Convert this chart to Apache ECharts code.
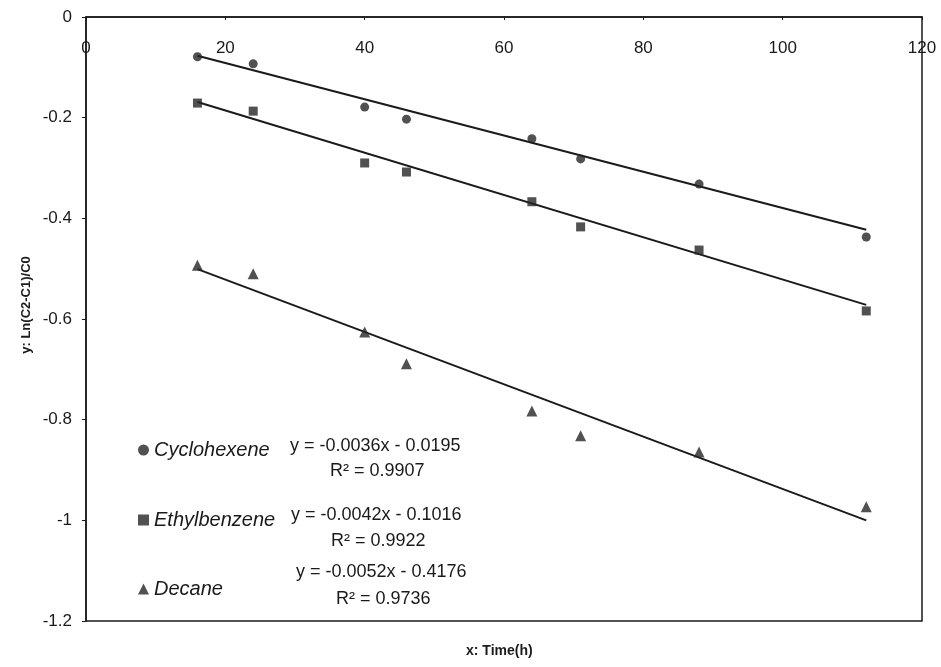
<!DOCTYPE html>
<html>
<head>
<meta charset="utf-8">
<script src="https://cdn.jsdelivr.net/npm/echarts@6/dist/echarts.min.js"></script>
<style>
  html, body { margin: 0; padding: 0; background: #fff; }
  #chart { width: 941px; height: 667px; }
</style>
</head>
<body>
<div id="chart"></div>
<script>
// Sampling times (h)
const timeH = [16, 24, 40, 46, 64, 71, 88, 112];

// Measured ln((C2-C1)/C0) per compound
const cyclohexene = [-0.079, -0.093, -0.179, -0.203, -0.242, -0.282, -0.332, -0.437];
const ethylbenzene = [-0.171, -0.187, -0.290, -0.308, -0.367, -0.417, -0.463, -0.584];
const decane = [-0.493, -0.510, -0.626, -0.689, -0.783, -0.832, -0.864, -0.973];

// Linear fits shown in the legend: y = slope * x + intercept
const compounds = ['Cyclohexene', 'Ethylbenzene', 'Decane'];
const slopes = [-0.0036, -0.0042, -0.0052];
const intercepts = [-0.0195, -0.1016, -0.4176];
const rSquared = ['0.9907', '0.9922', '0.9736'];

// Axis ticks
const xTicks = [0, 20, 40, 60, 80, 100, 120];
const yTicks = [0, -0.2, -0.4, -0.6, -0.8, -1, -1.2];

const markColor = '#262626';
const inkColor = '#1a1a1a';
const textFont = '"Liberation Sans", Arial, sans-serif';

const measured = [cyclohexene, ethylbenzene, decane];
const symbols = ['circle', 'rect', 'triangle'];
const symbolSizes = [9, 9, 11];

const series = [];
compounds.forEach((name, i) => {
  series.push({
    name: name,
    type: 'scatter',
    data: timeH.map((t, k) => [t, measured[i][k]]),
    symbol: symbols[i],
    symbolSize: symbolSizes[i],
    itemStyle: { color: markColor },
    z: 3
  });
  // fitted line over the sampled time range
  const x0 = timeH[0], x1 = timeH[timeH.length - 1];
  series.push({
    name: name + ' fit',
    type: 'line',
    data: [[x0, slopes[i] * x0 + intercepts[i]], [x1, slopes[i] * x1 + intercepts[i]]],
    showSymbol: false,
    symbol: 'none',
    lineStyle: { color: inkColor, width: 2 },
    silent: true,
    z: 2
  });
});

const fmtNum = v => {
  const a = Math.abs(v).toFixed(4);
  return (v < 0 ? '- ' : '+ ') + a;
};
const eqText = i => 'y = ' + slopes[i].toFixed(4) + 'x ' + fmtNum(intercepts[i]);

const legendTops = [435, 505, 574];
const eqPos = [[290, 447], [291, 516], [296, 573]];
const r2Pos = [[330, 472], [331, 542], [336, 600]];

const graphics = [];
compounds.forEach((name, i) => {
  graphics.push({
    type: 'text',
    left: eqPos[i][0],
    top: eqPos[i][1] - 10,
    style: { text: eqText(i), font: '18px ' + textFont, fill: inkColor }
  });
  graphics.push({
    type: 'text',
    left: r2Pos[i][0],
    top: r2Pos[i][1] - 10,
    style: { text: 'R\u00B2 = ' + rSquared[i], font: '18px ' + textFont, fill: inkColor }
  });
});

// axis titles
graphics.push({
  type: 'text',
  left: 466,
  top: 644,
  style: { text: 'x: Time(h)', font: 'bold 14px ' + textFont, fill: inkColor }
});
graphics.push({
  type: 'text',
  x: 26,
  y: 305,
  rotation: Math.PI / 2,
  style: {
    text: 'y: Ln(C2-C1)/C0',
    font: 'bold 13px ' + textFont,
    fill: inkColor,
    align: 'center',
    verticalAlign: 'middle'
  }
});

const chart = echarts.init(document.getElementById('chart'), null, { renderer: 'canvas' });
chart.setOption({
  animation: false,
  backgroundColor: '#ffffff',
  grid: {
    left: 86, right: 19, top: 17, bottom: 46,
    show: true,
    borderColor: inkColor,
    borderWidth: 1.5,
    backgroundColor: 'transparent'
  },
  legend: compounds.map((name, i) => ({
    data: [name],
    left: 133,
    top: legendTops[i],
    itemWidth: 11,
    itemHeight: 11,
    selectedMode: false,
    textStyle: { fontFamily: textFont, fontStyle: 'italic', fontSize: 20, color: inkColor }
  })),
  xAxis: {
    type: 'value',
    position: 'top',
    min: xTicks[0],
    max: xTicks[xTicks.length - 1],
    interval: 20,
    axisLine: { show: true, onZero: false, lineStyle: { color: inkColor, width: 1.5 } },
    axisTick: { show: true, inside: true, length: 3, lineStyle: { color: inkColor } },
    axisLabel: {
      inside: true,
      margin: 23,
      fontFamily: textFont,
      fontSize: 17,
      color: inkColor,
      customValues: xTicks
    },
    splitLine: { show: false }
  },
  yAxis: {
    type: 'value',
    min: yTicks[yTicks.length - 1],
    max: yTicks[0],
    interval: 0.2,
    axisLine: { show: true, onZero: false, lineStyle: { color: inkColor, width: 1.5 } },
    axisTick: { show: true, inside: false, length: 4, lineStyle: { color: inkColor } },
    axisLabel: {
      margin: 14,
      fontFamily: textFont,
      fontSize: 17,
      color: inkColor,
      formatter: v => String(Math.round(v * 10) / 10)
    },
    splitLine: { show: false }
  },
  graphic: graphics,
  series: series
});
</script>
</body>
</html>
